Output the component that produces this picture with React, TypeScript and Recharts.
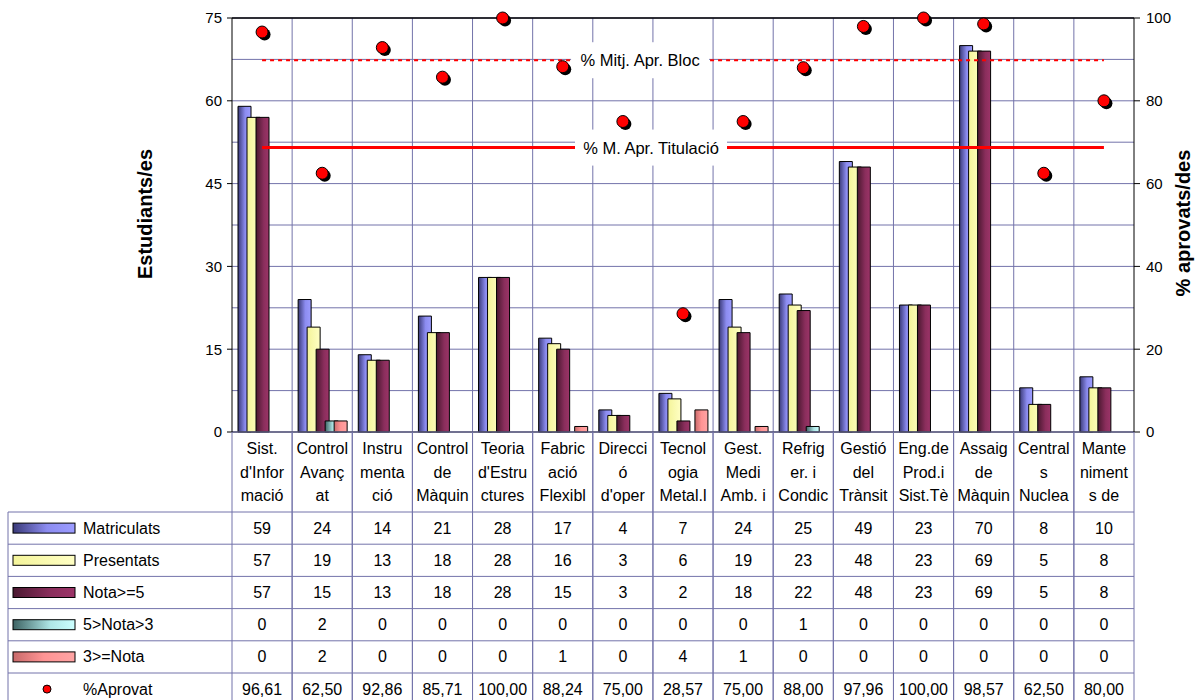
import React from 'react';
import { ComposedChart, Bar, Line, XAxis, YAxis, CartesianGrid, ReferenceLine } from 'recharts';

// ---------- DATA ----------
const categoryLines: string[][] = [
  ['Sist.', "d'Infor", 'mació'],
  ['Control', 'Avanç', 'at'],
  ['Instru', 'menta', 'ció'],
  ['Control', 'de', 'Màquin'],
  ['Teoria', "d'Estru", 'ctures'],
  ['Fabric', 'ació', 'Flexibl'],
  ['Direcci', 'ó', "d'oper"],
  ['Tecnol', 'ogia', 'Metal.l'],
  ['Gest.', 'Medi', 'Amb. i'],
  ['Refrig', 'er. i', 'Condic'],
  ['Gestió', 'del', 'Trànsit'],
  ['Eng.de', 'Prod.i', 'Sist.Tè'],
  ['Assaig', 'de', 'Màquin'],
  ['Central', 's', 'Nuclea'],
  ['Mante', 'niment', 's de'],
];
const matriculats = [59, 24, 14, 21, 28, 17, 4, 7, 24, 25, 49, 23, 70, 8, 10];
const presentats = [57, 19, 13, 18, 28, 16, 3, 6, 19, 23, 48, 23, 69, 5, 8];
const nota5 = [57, 15, 13, 18, 28, 15, 3, 2, 18, 22, 48, 23, 69, 5, 8];
const nota3a5 = [0, 2, 0, 0, 0, 0, 0, 0, 0, 1, 0, 0, 0, 0, 0];
const nota3 = [0, 2, 0, 0, 0, 1, 0, 4, 1, 0, 0, 0, 0, 0, 0];
const aprovat = [96.61, 62.5, 92.86, 85.71, 100.0, 88.24, 75.0, 28.57, 75.0, 88.0, 97.96, 100.0, 98.57, 62.5, 80.0];
const leftTicks = [0, 15, 30, 45, 60, 75];
const rightTicks = [0, 20, 40, 60, 80, 100];
const mitjBloc = 89.8;
const mitjTitulacio = 68.7;

// ---------- LAYOUT ----------
const W = 1195;
const H = 700;
const PLOT_L = 232;
const PLOT_R = 1134;
const PLOT_T = 18;
const PLOT_B = 432;
const N = categoryLines.length;
const CAT_W = (PLOT_R - PLOT_L) / N;
const TABLE_L = 8;
const TABLE_TOP = 512;
const ROW_H = 32.2;
const LABEL_Y = [448, 472, 495];
const GRID = '#7373aa';
const FONT = '"Liberation Sans", Arial, Helvetica, sans-serif';

const data = categoryLines.map((lines, i) => ({
  cat: lines.join(' '),
  matriculats: matriculats[i],
  presentats: presentats[i],
  nota5: nota5[i],
  nota3a5: nota3a5[i],
  nota3: nota3[i],
  aprovat: aprovat[i],
}));

type Row = { key: string; label: string; values: number[]; fill?: string; type: 'bar' | 'dot' };
const tableRows: Row[] = [
  { key: 'matriculats', label: 'Matriculats', values: matriculats, fill: 'url(#gMat)', type: 'bar' },
  { key: 'presentats', label: 'Presentats', values: presentats, fill: 'url(#gPre)', type: 'bar' },
  { key: 'nota5', label: 'Nota>=5', values: nota5, fill: 'url(#gN5)', type: 'bar' },
  { key: 'nota3a5', label: '5>Nota>3', values: nota3a5, fill: 'url(#gN35)', type: 'bar' },
  { key: 'nota3', label: '3>=Nota', values: nota3, fill: 'url(#gN3)', type: 'bar' },
  { key: 'aprovat', label: '%Aprovat', values: aprovat, type: 'dot' },
];

const fmt = (v: number, type: string) => (type === 'dot' ? v.toFixed(2).replace('.', ',') : String(v));
const TABLE_BOTTOM = TABLE_TOP + ROW_H * tableRows.length;

function LegendColumn({ right }: { right: number }) {
  return (
    <g>
      <line x1={TABLE_L} x2={TABLE_L} y1={TABLE_TOP} y2={TABLE_BOTTOM} stroke={GRID} />
      {tableRows.map((row, k) => {
        const top = TABLE_TOP + k * ROW_H;
        const cy = top + ROW_H / 2;
        return (
          <g key={row.key}>
            <line x1={TABLE_L} x2={right} y1={top} y2={top} stroke={GRID} />
            {row.type === 'bar' ? (
              <rect x={13} y={cy - 5} width={62} height={10} fill={row.fill} stroke="#000" strokeWidth={1} />
            ) : (
              <circle cx={47} cy={cy} r={4} fill="#ff0000" stroke="#000" strokeWidth={1} />
            )}
            <text x={83} y={cy} dominantBaseline="central" fontSize={16} fontFamily={FONT} fill="#000">
              {row.label}
            </text>
          </g>
        );
      })}
    </g>
  );
}

function CategoryTick(props: any) {
  const { x } = props;
  const i: number = props.payload && typeof props.payload.index === 'number' ? props.payload.index : props.index;
  const l = x - CAT_W / 2;
  const r = x + CAT_W / 2;
  return (
    <g>
      <line x1={l} x2={l} y1={PLOT_B} y2={TABLE_BOTTOM} stroke={GRID} />
      <line x1={r} x2={r} y1={PLOT_B} y2={TABLE_BOTTOM} stroke={GRID} />
      {categoryLines[i].map((t, k) => (
        <text key={k} x={x} y={LABEL_Y[k]} textAnchor="middle" dominantBaseline="central" fontSize={16} fontFamily={FONT} fill="#000">
          {t}
        </text>
      ))}
      {tableRows.map((row, k) => {
        const top = TABLE_TOP + k * ROW_H;
        return (
          <g key={row.key}>
            <line x1={l} x2={r} y1={top} y2={top} stroke={GRID} />
            <text x={x} y={top + ROW_H / 2} textAnchor="middle" dominantBaseline="central" fontSize={16} fontFamily={FONT} fill="#000">
              {fmt(row.values[i], row.type)}
            </text>
          </g>
        );
      })}
      {i === 0 && <LegendColumn right={l} />}
    </g>
  );
}

const renderDot = (p: any) => {
  const { cx, cy, index } = p;
  if (cx == null || cy == null) return <g key={`d${index}`} />;
  return (
    <g key={`d${index}`}>
      <circle cx={cx + 2.5} cy={cy + 2.5} r={6} fill="#000" />
      <circle cx={cx} cy={cy} r={6} fill="#ff0000" stroke="#000" strokeWidth={1} />
    </g>
  );
};

function RefLabel(props: any) {
  const { viewBox, text, frac, w } = props;
  if (!viewBox) return null;
  const cx = viewBox.x + (viewBox.width || 0) * frac;
  const cy = viewBox.y + (viewBox.height || 0) / 2;
  return (
    <g>
      <rect x={cx - w / 2} y={cy - 18} width={w} height={36} fill="#fff" />
      <text x={cx} y={cy} textAnchor="middle" dominantBaseline="central" fontSize={16.5} fontFamily={FONT} fill="#000">
        {text}
      </text>
    </g>
  );
}

const hPoints = Array.from({ length: 11 }, (_, k) => PLOT_T + ((PLOT_B - PLOT_T) * k) / 10);
const vPoints = Array.from({ length: N - 1 }, (_, k) => PLOT_L + CAT_W * (k + 1));

export default function App() {
  return (
    <div style={{ position: 'absolute', left: 0, top: 0, width: W, height: H, background: '#fff', fontFamily: FONT, overflow: 'hidden' }}>
      <ComposedChart
        width={W}
        height={H}
        data={data}
        margin={{ top: PLOT_T, right: 0, bottom: 0, left: 0 }}
        barGap={-4}
      >
        <defs>
          <linearGradient id="gMat" x1="0" y1="0" x2="1" y2="0">
            <stop offset="0" stopColor="#3a3a78" />
            <stop offset="0.55" stopColor="#8c8cf0" />
            <stop offset="1" stopColor="#9c9cff" />
          </linearGradient>
          <linearGradient id="gPre" x1="0" y1="0" x2="1" y2="0">
            <stop offset="0" stopColor="#f4f49a" />
            <stop offset="1" stopColor="#ffffc4" />
          </linearGradient>
          <linearGradient id="gN5" x1="0" y1="0" x2="1" y2="0">
            <stop offset="0" stopColor="#4a1830" />
            <stop offset="0.6" stopColor="#8a2e5c" />
            <stop offset="1" stopColor="#9c3468" />
          </linearGradient>
          <linearGradient id="gN35" x1="0" y1="0" x2="1" y2="0">
            <stop offset="0" stopColor="#3c6262" />
            <stop offset="0.6" stopColor="#aee6e6" />
            <stop offset="1" stopColor="#ccffff" />
          </linearGradient>
          <linearGradient id="gN3" x1="0" y1="0" x2="1" y2="0">
            <stop offset="0" stopColor="#c86a6a" />
            <stop offset="0.5" stopColor="#ff9494" />
            <stop offset="1" stopColor="#ffa4a4" />
          </linearGradient>
        </defs>
        <CartesianGrid horizontalPoints={hPoints} verticalPoints={vPoints} stroke={GRID} strokeWidth={1} />
        <XAxis
          dataKey="cat"
          interval={0}
          height={H - PLOT_B}
          tickSize={0}
          tickMargin={0}
          tickLine={false}
          axisLine={{ stroke: '#5a5a7a', strokeWidth: 1.5 }}
          tick={<CategoryTick />}
        />
        <YAxis
          yAxisId="left"
          orientation="left"
          width={PLOT_L}
          domain={[0, 75]}
          ticks={leftTicks}
          tickSize={5}
          tickMargin={5}
          axisLine={{ stroke: '#000' }}
          tickLine={{ stroke: '#000' }}
          tick={{ fontSize: 15, fill: '#000', fontFamily: FONT }}
          label={{
            content: () => (
              <text
                x={145}
                y={214}
                transform="rotate(-90 145 214)"
                textAnchor="middle"
                dominantBaseline="central"
                fontSize={20}
                fontWeight="bold"
                fontFamily={FONT}
                fill="#000"
              >
                Estudiants/es
              </text>
            ),
          }}
        />
        <YAxis
          yAxisId="right"
          orientation="right"
          width={W - PLOT_R}
          domain={[0, 100]}
          ticks={rightTicks}
          tickSize={6}
          tickMargin={6}
          axisLine={{ stroke: '#000' }}
          tickLine={{ stroke: '#000' }}
          tick={{ fontSize: 15, fill: '#000', fontFamily: FONT }}
          label={{
            content: () => (
              <text
                x={1183}
                y={223}
                transform="rotate(-90 1183 223)"
                textAnchor="middle"
                dominantBaseline="central"
                fontSize={20}
                fontWeight="bold"
                fontFamily={FONT}
                fill="#000"
              >
                % aprovats/des
              </text>
            ),
          }}
        />
        <Bar yAxisId="left" dataKey="matriculats" barSize={13} fill="url(#gMat)" stroke="#000" strokeWidth={1} isAnimationActive={false} />
        <Bar yAxisId="left" dataKey="presentats" barSize={13} fill="url(#gPre)" stroke="#000" strokeWidth={1} isAnimationActive={false} />
        <Bar yAxisId="left" dataKey="nota5" barSize={13} fill="url(#gN5)" stroke="#000" strokeWidth={1} isAnimationActive={false} />
        <Bar yAxisId="left" dataKey="nota3a5" barSize={13} fill="url(#gN35)" stroke="#000" strokeWidth={1} isAnimationActive={false} />
        <Bar yAxisId="left" dataKey="nota3" barSize={13} fill="url(#gN3)" stroke="#000" strokeWidth={1} isAnimationActive={false} />
        <ReferenceLine yAxisId="left" y={75} stroke="#000" strokeWidth={1.5} />
        <Line
          yAxisId="right"
          dataKey="aprovat"
          stroke="none"
          dot={renderDot}
          activeDot={false}
          isAnimationActive={false}
        />
        <ReferenceLine
          yAxisId="right"
          segment={[
            { x: data[0].cat, y: mitjBloc },
            { x: data[N - 1].cat, y: mitjBloc },
          ]}
          stroke="#ff0000"
          strokeWidth={2}
          strokeDasharray="4 4"
          ifOverflow="visible"
          label={{ content: (p: any) => <RefLabel {...p} text="% Mitj. Apr. Bloc" frac={0.449} w={138} /> }}
        />
        <ReferenceLine
          yAxisId="right"
          segment={[
            { x: data[0].cat, y: mitjTitulacio },
            { x: data[N - 1].cat, y: mitjTitulacio },
          ]}
          stroke="#ff0000"
          strokeWidth={3}
          ifOverflow="visible"
          label={{ content: (p: any) => <RefLabel {...p} text="% M. Apr. Titulació" frac={0.462} w={152} /> }}
        />
      </ComposedChart>
    </div>
  );
}
